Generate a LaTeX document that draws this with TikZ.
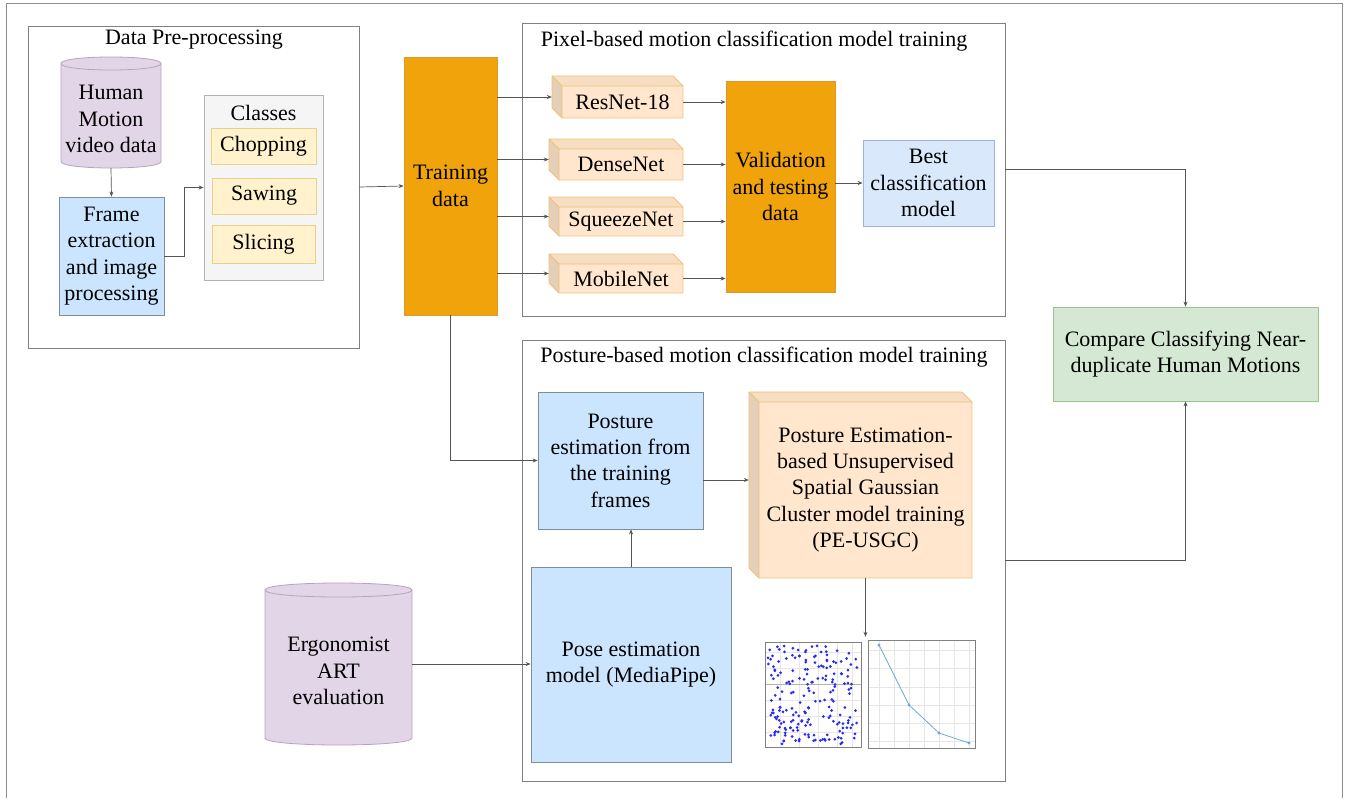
\documentclass[tikz,border=0pt]{standalone}
\usepackage{fontspec}
\setmainfont{Liberation Serif}
\usetikzlibrary{arrows.meta}
\definecolor{frameC}{HTML}{8C8C8C}
\definecolor{contC}{HTML}{808080}
\definecolor{orgF}{HTML}{F0A30A}
\definecolor{orgS}{HTML}{D89A2A}
\definecolor{bluF}{HTML}{CCE5FF}
\definecolor{bluS}{HTML}{7F8C99}
\definecolor{bestF}{HTML}{DAE8FC}
\definecolor{bestS}{HTML}{9DB4D8}
\definecolor{clsF}{HTML}{F5F5F5}
\definecolor{clsS}{HTML}{B3B3B3}
\definecolor{itmF}{HTML}{FFF2CC}
\definecolor{itmS}{HTML}{E8D08A}
\definecolor{cubeF}{HTML}{FFE6CC}
\definecolor{cubeT}{HTML}{F7DDC2}
\definecolor{cubeL}{HTML}{E6CFB8}
\definecolor{cubeS}{HTML}{EDC27A}
\definecolor{cmpF}{HTML}{D5E8D4}
\definecolor{cmpS}{HTML}{9CC38A}
\definecolor{cylF}{HTML}{E1D5E7}
\definecolor{cylS}{HTML}{B8A2C4}
\definecolor{arrC}{HTML}{555555}
\definecolor{plotB}{HTML}{2A2AF0}
\definecolor{plotL}{HTML}{6FA8D6}
\definecolor{gridC}{HTML}{E6E6E6}
\tikzset{
  base/.style={inner sep=0pt, align=center, font=\fontsize{22}{26.4}\selectfont, line width=0.8pt},
  cont/.style={base, draw=contC, fill=white},
  orangebox/.style={base, draw=orgS, fill=orgF},
  bluebox/.style={base, draw=bluS, fill=bluF},
  bestbox/.style={base, draw=bestS, fill=bestF},
  classbox/.style={base, draw=clsS, fill=clsF},
  itembox/.style={base, draw=itmS, fill=itmF},
  cmpbox/.style={base, draw=cmpS, fill=cmpF},
  ghost/.style={inner sep=0pt},
  arr/.style={draw=arrC, line width=0.7pt, -{Stealth[length=5pt,width=4pt]}},
  cubeline/.style={draw=cubeS, line width=0.8pt, line join=round},
  cylline/.style={draw=cylS, line width=0.8pt},
}
% name, style, x0, y0, x1, y1, text
\newcommand{\bx}[7]{\node[#2, minimum width={(#5)-(#3)}, minimum height={(#6)-(#4)}] (#1) at ({((#3)+(#5))/2},{((#4)+(#6))/2}) {#7};}
% name, x0, y0, x1, y1, d, text
\newcommand{\mkcube}[7]{%
  \fill[cubeF] (#2+#6,#3+#6) rectangle (#4,#5);
  \fill[cubeT] (#2,#3) -- (#4-#6,#3) -- (#4,#3+#6) -- (#2+#6,#3+#6) -- cycle;
  \fill[cubeL] (#2,#3) -- (#2+#6,#3+#6) -- (#2+#6,#5) -- (#2,#5-#6) -- cycle;
  \draw[cubeline] (#2,#3) -- (#4-#6,#3) -- (#4,#3+#6) -- (#4,#5) -- (#2+#6,#5) -- (#2,#5-#6) -- cycle;
  \draw[cubeline] (#2,#3) -- (#2+#6,#3+#6) -- (#4,#3+#6) (#2+#6,#3+#6) -- (#2+#6,#5);
  \node[ghost, minimum width={(#4)-(#2)}, minimum height={(#5)-(#3)}] (#1) at ({((#2)+(#4))/2},{((#3)+(#5))/2}) {};
  \node[base, minimum width={(#4)-(#2)-(#6)}, minimum height={(#5)-(#3)-(#6)}] (#1f) at ({((#2)+(#6)+(#4))/2},{((#3)+(#6)+(#5))/2}) {#7};
}
% name, x0, y0, x1, y1, ry, text
\newcommand{\mkcyl}[7]{%
  \path[fill=cylF, cylline] (#2,#3+#6) -- (#2,#5-#6) .. controls (#2,#5+#6/3) and (#4,#5+#6/3) .. (#4,#5-#6)
     -- (#4,#3+#6) .. controls (#4,#3-#6/3) and (#2,#3-#6/3) .. (#2,#3+#6) -- cycle;
  \draw[cylline] (#2,#3+#6) .. controls (#2,#3+#6*7/3) and (#4,#3+#6*7/3) .. (#4,#3+#6);
  \node[ghost, minimum width={(#4)-(#2)}, minimum height={(#5)-(#3)}] (#1) at ({((#2)+(#4))/2},{((#3)+(#5))/2}) {};
  \node[base] (#1t) at ([yshift=-#6 pt]#1.center) {#7};
}
\begin{document}
\begin{tikzpicture}[x=1pt,y=-1pt]
\useasboundingbox (0,0) rectangle (1348,798);
\fill[white] (0,0) rectangle (1348,798);
\draw[frameC, line width=1pt] (6,798) -- (6,3.5) -- (1342,3.5) -- (1342,798);

% containers
\bx{dpp}{cont}{28}{26}{359}{348}{}
\node[base] (dppT) at (194,40) {Data Pre-processing};
\bx{pix}{cont}{522}{23}{1005}{316}{}
\node[base] (pixT) at (754,41) {Pixel-based motion classification model training};
\bx{pos}{cont}{522}{340}{1005}{781}{}
\node[base] (posT) at (764,357) {Posture-based motion classification model training};

% data pre-processing
\mkcyl{hm}{61}{57}{161}{168}{6.5}{Human\\Motion\\video data}
\bx{frame}{bluebox}{59}{197}{164}{315}{Frame\\extraction\\and image\\processing}
\bx{classes}{classbox}{204}{95}{323}{280}{}
\node[base] (classesT) at (263.5,113) {Classes};
\bx{chop}{itembox}{211}{128}{316}{164}{Chopping}
\bx{saw}{itembox}{212}{178}{316}{214}{Sawing}
\bx{slice}{itembox}{212}{225}{315}{263}{Slicing}

% training data
\bx{train}{orangebox}{404}{57}{497}{315}{Training\\data}

% pixel-based
\mkcube{r18}{552}{76}{683}{118}{10}{ResNet-18}
\mkcube{dn}{549}{139}{683}{180}{10}{DenseNet}
\mkcube{sq}{549}{197}{683}{236}{10}{SqueezeNet}
\mkcube{mb}{549}{254}{683}{293}{10}{MobileNet}
\bx{val}{orangebox}{726}{81}{835}{292}{Validation\\and testing\\data}
\bx{best}{bestbox}{863}{140}{994}{226}{Best\\classification\\model}

% compare
\bx{cmp}{cmpbox}{1053}{307}{1318}{401}{Compare Classifying Near-\\duplicate Human Motions}

% posture-based
\bx{post}{bluebox}{538}{392}{703}{529}{Posture\\estimation from\\the training\\frames}
\mkcube{pe}{749}{392}{972}{578}{10}{Posture Estimation-\\based Unsupervised\\Spatial Gaussian\\Cluster model training\\(PE-USGC)}
\bx{pose}{bluebox}{531}{567}{731}{762}{Pose estimation\\model (MediaPipe)}
\mkcyl{ergo}{265}{583}{412}{745}{7}{Ergonomist\\ART\\evaluation}

% plots
\node[ghost, minimum width=213, minimum height=113] (plots) at (868.5,693.5) {};
\begin{scope}
  \fill[white] (762,637) rectangle (863,751);
  \foreach \yy in {652,668,700,716,732} \draw[gridC, line width=0.4pt] (765,\yy) -- (861,\yy);
  \foreach \xx in {780,799,818,837,852} \draw[gridC, line width=0.4pt] (\xx,642) -- (\xx,747);
  \draw[gray!60, line width=0.5pt] (765,684) -- (861,684);
  \draw[gray, line width=0.5pt] (765,642) rectangle (861,747);
  \pgfmathsetseed{7}
  \foreach \i in {1,...,200} {
    \pgfmathsetmacro\px{768+rnd*90}
    \pgfmathsetmacro\py{645+rnd*99}
    \fill[plotB] (\px,\py) circle[radius=1.5];
  }
  \fill[white] (866,637) rectangle (977,751);
  \foreach \yy in {650,668,687,705,723,741} \draw[gridC, line width=0.4pt] (868,\yy) -- (975,\yy);
  \foreach \xx in {879,894,909,924,939,954,969} \draw[gridC, line width=0.4pt] (\xx,640) -- (\xx,748);
  \draw[gray, line width=0.5pt] (868,640) rectangle (975,748);
  \draw[plotL, line width=0.8pt] (879,645) -- (909,705) -- (939,733) -- (969,743);
  \foreach \q in {(879,645),(909,705),(939,733),(969,743)} \fill[plotL] \q circle[radius=1.6];
\end{scope}

% connectors
\draw[arr] (hm.south) -- (frame.north);
\draw[arr] (frame.east) -- ++(20,0) |- (classes.west);
\draw[arr] (dpp.east) -- (train.west);
\draw[arr] (train.east |- r18.west) -- (r18.west);
\draw[arr] (train.east |- dn.west) -- (dn.west);
\draw[arr] (train.east |- sq.west) -- (sq.west);
\draw[arr] (train.east |- mb.west) -- (mb.west);
\draw[arr] (r18f.east) -- (r18f.east -| val.west);
\draw[arr] (dnf.east) -- (dnf.east -| val.west);
\draw[arr] (sqf.east) -- (sqf.east -| val.west);
\draw[arr] (mbf.east) -- (mbf.east -| val.west);
\draw[arr] (val.east |- best.west) -- (best.west);
\draw[arr] (pix.east) -| (cmp.north);
\draw[arr] (pos.east) -| (cmp.south);
\draw[arr] (train.south) |- (post.west);
\draw[arr] ([yshift=-19.5pt]post.east) -- ([yshift=-19.5pt]post.east -| pe.west);
\draw[arr] (pose.north) -- (pose.north |- post.south);
\draw[arr] (ergo.east) -- (ergo.east -| pose.west);
\draw[arr] (pef.south) -- (pef.south |- plots.north);
\end{tikzpicture}
\end{document}
